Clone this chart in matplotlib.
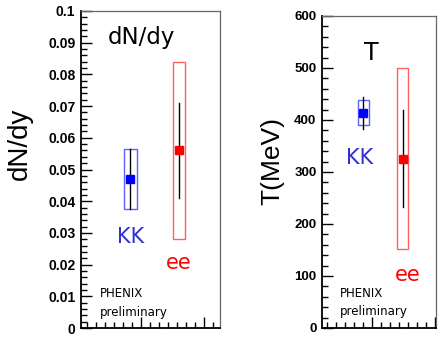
import matplotlib
matplotlib.use("Agg")
import matplotlib.pyplot as plt
from matplotlib.patches import Rectangle
from matplotlib.ticker import MultipleLocator, AutoMinorLocator

# dN/dy panel
dn_x = [0.83, 1.60]
dn_val = [0.047, 0.056]
dn_stat_lo = [0.0375, 0.041]
dn_stat_hi = [0.0565, 0.071]
dn_sys_lo = [0.0375, 0.028]
dn_sys_hi = [0.0565, 0.084]

# T panel
t_x = [0.857, 1.49]
t_val = [413, 325]
t_stat_lo = [383, 232]
t_stat_hi = [445, 420]
t_sys_lo = [390, 152]
t_sys_hi = [438, 500]

names = ["KK", "ee"]
mark_col = ["#0000ff", "#ff0000"]
box_col = ["#6060ff", "#ff6060"]
txt_col = ["#3030d0", "#ff0000"]

W, H = 443, 340
fig = plt.figure(figsize=(W / 100, H / 100), dpi=100)
ax1 = fig.add_axes([81 / W, 1 - 328 / H, 139 / W, 317 / H])
ax2 = fig.add_axes([322 / W, 1 - 328 / H, 114 / W, 312 / H])

tickfont = dict(family="Liberation Sans", weight="bold")


def draw(ax, xs, val, slo, shi, ylo, yhi, halfw):
    for i in range(len(xs)):
        ax.add_patch(Rectangle((xs[i] - halfw, ylo[i]), 2 * halfw, yhi[i] - ylo[i],
                               fill=False, ec=box_col[i], lw=1.0, zorder=2))
        ax.plot([xs[i], xs[i]], [slo[i], shi[i]], color="black", lw=1.0, zorder=3)
        ax.plot(xs[i], val[i], "s", color=mark_col[i], ms=6, mec=mark_col[i], zorder=4)


def style(ax, ymaj, ymin):
    for s in ["left", "bottom"]:
        ax.spines[s].set_linewidth(1.3)
        ax.spines[s].set_color("black")
    for s in ["top", "right"]:
        ax.spines[s].set_linewidth(0.9)
        ax.spines[s].set_color("#666666")
    ax.yaxis.set_major_locator(MultipleLocator(ymaj))
    ax.yaxis.set_minor_locator(MultipleLocator(ymin))
    ax.xaxis.set_major_locator(MultipleLocator(1))
    ax.xaxis.set_minor_locator(AutoMinorLocator(7))
    ax.tick_params(which="major", direction="in", length=8, width=1, pad=4,
                   top=False, right=False)
    ax.tick_params(which="minor", direction="in", length=4, width=1,
                   top=False, right=False)


draw(ax1, dn_x, dn_val, dn_stat_lo, dn_stat_hi, dn_sys_lo, dn_sys_hi, 0.1)
ax1.set_xlim(0.05, 2.25)
ax1.set_ylim(0, 0.1)
style(ax1, 0.01, 0.002)
ax1.set_yticks([0, 0.01, 0.02, 0.03, 0.04, 0.05, 0.06, 0.07, 0.08, 0.09, 0.1])
ax1.set_yticklabels(["0", "0.01", "0.02", "0.03", "0.04", "0.05", "0.06",
                     "0.07", "0.08", "0.09", "0.1"], **tickfont, fontsize=10)
ax1.set_xticklabels([])
ax1.set_ylabel("dN/dy", family="Liberation Sans", fontsize=20)
ax1.yaxis.set_label_coords(-0.345, 0.58)
ax1.text(1.0, 0.0915, "dN/dy", fontsize=16.5, ha="center", va="center")
ax1.text(0.83, 0.0287, names[0], color=txt_col[0], fontsize=15, ha="center", va="center")
ax1.text(1.60, 0.0205, names[1], color=txt_col[1], fontsize=15, ha="center", va="center")
ax1.text(0.35, 0.011, "PHENIX", fontsize=8.5, va="center")
ax1.text(0.35, 0.005, "preliminary", fontsize=8.5, va="center")

draw(ax2, t_x, t_val, t_stat_lo, t_stat_hi, t_sys_lo, t_sys_hi, 0.087)
ax2.set_xlim(0.2, 2.02)
ax2.set_ylim(0, 600)
style(ax2, 100, 20)
ax2.set_yticks([0, 100, 200, 300, 400, 500, 600])
ax2.set_yticklabels(["0", "100", "200", "300", "400", "500", "600"], **tickfont, fontsize=9.5)
ax2.set_xticklabels([])
ax2.set_ylabel("T(MeV)", family="Liberation Sans", fontsize=19)
ax2.yaxis.set_label_coords(-0.333, 0.535)
ax2.text(0.99, 529, "T", fontsize=17, ha="center", va="center")
ax2.text(0.80, 327, names[0], color=txt_col[0], fontsize=15, ha="center", va="center")
ax2.text(1.57, 102, names[1], color=txt_col[1], fontsize=15, ha="center", va="center")
ax2.text(0.49, 67, "PHENIX", fontsize=8.5, va="center")
ax2.text(0.49, 31, "preliminary", fontsize=8.5, va="center")

fig.savefig("out.png", dpi=100)
